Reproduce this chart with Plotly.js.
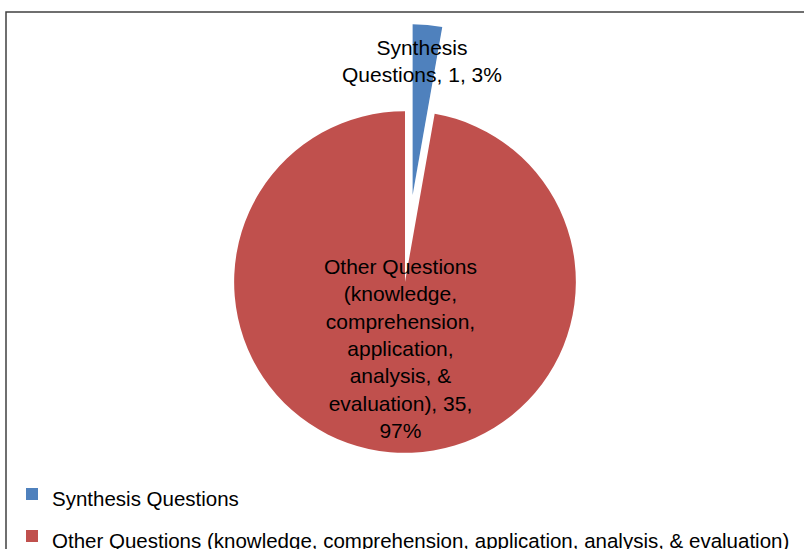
<!DOCTYPE html>
<html>
<head>
<meta charset="utf-8">
<script src="https://cdn.plot.ly/plotly-3.0.1.min.js"></script>
<style>html,body{margin:0;padding:0;background:#fff;}#chart{width:804px;height:549px;}</style>
</head>
<body>
<div id="chart"></div>
<script>
var categories = ["Synthesis Questions", "Other Questions (knowledge, comprehension, application, analysis, & evaluation)"];
var values = [1, 35];
var colors = ["#4F81BD", "#C0504D"];
var pulls = [0.51, 0];

var FONT = "Liberation Sans, Arial, sans-serif";
var total = values.reduce(function(a, b){ return a + b; }, 0);

function wrap(text, width) {
  var words = text.split(" "), lines = [], cur = "";
  words.forEach(function(w){
    if (cur === "") cur = w;
    else if ((cur + " " + w).length <= width) cur += " " + w;
    else { lines.push(cur); cur = w; }
  });
  if (cur) lines.push(cur);
  return lines.join("<br>");
}
var labelTexts = categories.map(function(c, i){
  return wrap(c + ", " + values[i] + ", " + Math.round(values[i] / total * 100) + "%", 16);
});
var legendLabels = categories.map(function(c){
  return '<span style="font-size:20.5px">' + c + '</span>';
});

var trace = {
  type: "pie",
  labels: legendLabels,
  values: values,
  sort: false,
  direction: "clockwise",
  rotation: 0,
  pull: pulls,
  marker: {colors: colors, line: {width: 0}},
  textinfo: "none",
  hoverinfo: "label+value+percent",
  domain: {x: [147/804, 663/804], y: [1 - 540/549, 1 - 24/549]}
};

var layout = {
  width: 804, height: 549,
  margin: {l: 0, r: 0, t: 0, b: 0, autoexpand: false},
  paper_bgcolor: "#fff",
  showlegend: true,
  legend: {
    xref: "container", yref: "container",
    x: 12/804, xanchor: "left",
    y: 1 - 468/549, yanchor: "top",
    bgcolor: "rgba(0,0,0,0)",
    font: {family: FONT, size: 30, color: "#000"}
  },
  font: {family: FONT, color: "#000"},
  shapes: [{
    type: "rect", xref: "paper", yref: "paper",
    x0: 6/804, x1: 1.02, y0: -0.02, y1: 1 - 12/549,
    line: {color: "#404040", width: 1.5}
  }],
  annotations: [
    {xref: "paper", yref: "paper", x: 422/804, y: 1 - 61/549, xanchor: "center", yanchor: "middle",
     text: labelTexts[0], showarrow: false, font: {family: FONT, size: 21, color: "#000"}, align: "center"},
    {xref: "paper", yref: "paper", x: 400/804, y: 1 - 348/549, xanchor: "center", yanchor: "middle",
     text: labelTexts[1], showarrow: false, font: {family: FONT, size: 21, color: "#000"}, align: "center"}
  ]
};

Plotly.newPlot("chart", [trace], layout, {displayModeBar: false, staticPlot: true});
</script>
</body>
</html>
